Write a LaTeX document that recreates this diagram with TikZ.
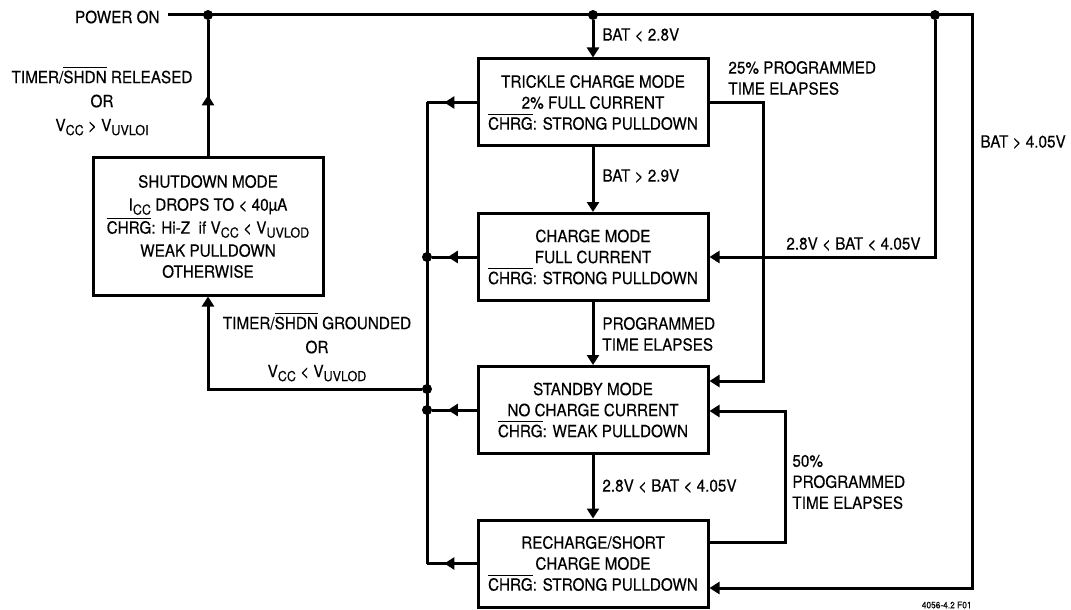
\documentclass[tikz,border=0pt]{standalone}
\usepackage{fontspec}
\setmainfont{TeX Gyre Heros}[FakeStretch=0.91,FakeBold=0.3]
\usetikzlibrary{arrows.meta,decorations.markings}
\newcommand{\ovr}[1]{\ensuremath{\overline{\mbox{#1}}}}
\newcommand{\low}[1]{\raisebox{-0.45ex}{\fontsize{6.9}{7}\selectfont #1}}
\begin{document}
\begin{tikzpicture}[x=0.5pt,y=-0.5pt,
		wire/.style={line width=1.5pt},
		tip/.style={-{Triangle[length=5pt,width=6pt]}},
		midtip/.style={postaction={decorate},decoration={markings,mark=at position #1 with {\arrow{Triangle[length=5pt,width=6pt]}}}},
		mode/.style={draw,line width=1.5pt,minimum width=115pt,minimum height=43.5pt,align=center,inner sep=0pt},
		dot/.style={circle,fill=black,inner sep=0pt,minimum size=5pt},
		lbl/.style={inner sep=0pt},
		font=\fontsize{8.4}{10.5}\selectfont]
		\useasboundingbox (0,0) rectangle (1071,610);
		\node[mode] (trickle) at (593,102.5) {TRICKLE CHARGE MODE\\2\% FULL CURRENT\\\ovr{CHRG}: STRONG PULLDOWN};
		\node[mode] (charge) at (593,257) {CHARGE MODE\\FULL CURRENT\\\ovr{CHRG}: STRONG PULLDOWN};
		\node[mode] (standby) at (593,410) {STANDBY MODE\\NO CHARGE CURRENT\\\ovr{CHRG}: WEAK PULLDOWN};
		\node[mode] (recharge) at (593,563.5) {RECHARGE/SHORT\\CHARGE MODE\\\ovr{CHRG}: STRONG PULLDOWN};
		\node[mode,minimum height=68.5pt] (shutdown) at (208,226.5) {SHUTDOWN MODE\\[1pt]I\low{CC} DROPS TO < 40µA\\[1pt]\ovr{CHRG}: Hi-Z\ \ if V\low{CC} < V\low{UVLOD}\\[1pt]WEAK PULLDOWN\\OTHERWISE};
		\coordinate (rail) at (168,15);
		\coordinate (cR) at (972,15);
		\coordinate (bot) at (972,588);
		\coordinate (busx) at (427,0);
		\coordinate (t25) at (763,381);
		\coordinate (t50a) at (785,542);
		\coordinate (t50b) at (785,411);
		\node[dot] (jL) at (208,15) {};
		\node[dot] (jC) at (593,15) {};
		\node[dot] (jR) at (935,15) {};
		\node[dot] (jG) at (427,389) {};
		\node[dot] (jCh) at (charge.west -| busx) {};
		\node[dot] (jSt) at (standby.west -| busx) {};
		\draw[wire,tip] (rail) -- (cR) -- (bot) -- (bot -| recharge.east);
		\draw[wire,midtip=0.45] (shutdown.north) -- (jL);
		\draw[wire,tip] (jC) -- (trickle.north);
		\draw[wire,tip] (trickle.south) -- (charge.north);
		\draw[wire,tip] (charge.south) -- (standby.north);
		\draw[wire,tip] (standby.south) -- (recharge.north);
		\draw[wire,tip] (jR) |- (charge.east);
		\draw[wire,tip] (trickle.east) -| (t25) -- (t25 -| standby.east);
		\draw[wire,tip] (recharge.east |- t50a) -- (t50a) -- (t50b) -- (t50b -| standby.east);
		\draw[wire,midtip=0.65] (trickle.west) -- (trickle.west -| busx);
		\draw[wire] (trickle.west -| busx) -- (recharge.west -| busx);
		\draw[wire,midtip=0.65] (charge.west) -- (jCh);
		\draw[wire,midtip=0.65] (standby.west) -- (jSt);
		\draw[wire,midtip=0.65] (recharge.west) -- (recharge.west -| busx);
		\draw[wire,tip] (jG) -| (shutdown.south);
		\node[lbl,anchor=east] (lpwr) at (160,17) {POWER ON};
		\node[lbl,align=center] (lrel) at (102,101) {TIMER/\ovr{SHDN} RELEASED\\[1.5pt]OR\\[1.5pt]V\low{CC} > V\low{UVLOI}};
		\node[lbl,align=center] (lgnd) at (317,347) {TIMER/\ovr{SHDN} GROUNDED\\[1.5pt]OR\\[1.5pt]V\low{CC} < V\low{UVLOD}};
		\node[lbl,anchor=west] (lb28) at (602,35) {BAT < 2.8V};
		\node[lbl,anchor=west] (lb29) at (602,176) {BAT > 2.9V};
		\node[lbl,anchor=west,align=left] (lprog) at (602,334) {PROGRAMMED\\TIME ELAPSES};
		\node[lbl,anchor=west] (lrng) at (602,486) {2.8V < BAT < 4.05V};
		\node[lbl,anchor=west,align=left] (l25) at (728,78) {25\% PROGRAMMED\\TIME ELAPSES};
		\node[lbl,anchor=east] (lrngR) at (921,244) {2.8V < BAT < 4.05V};
		\node[lbl,anchor=west] (lb405) at (980,142) {BAT > 4.05V};
		\node[lbl,anchor=west,align=left] (l50) at (792,482) {50\%\\PROGRAMMED\\TIME ELAPSES};
		\node[lbl,anchor=east,font=\fontsize{4.6}{5}\selectfont] (lfig) at (972,605) {4056-4.2 F01};
	\end{tikzpicture}
\end{document}
